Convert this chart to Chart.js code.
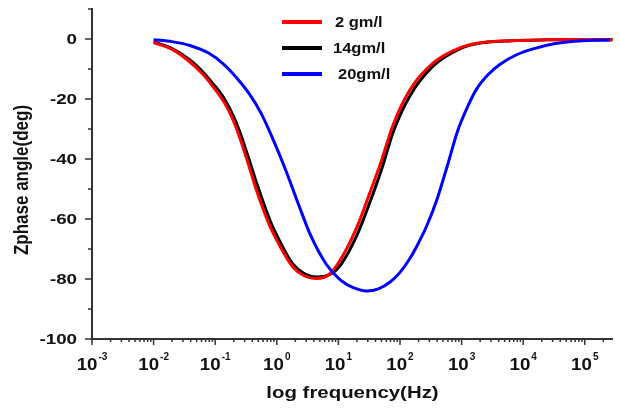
<!DOCTYPE html>
<html>
<head>
<meta charset="utf-8">
<script src="https://cdn.jsdelivr.net/npm/chart.js@4"></script>
<style>
  body { margin: 0; background: #fff; }
  #chart { display: block; }
</style>
</head>
<body>
<canvas id="chart" width="620" height="410"></canvas>
<script>
// readings from the picture: log10(frequency) and phase angle (deg)
const redLogF = [-2.0, -1.7, -1.41, -1.2, -1.04, -0.85, -0.71, -0.6, -0.48, -0.32, -0.11, 0.05, 0.26, 0.45, 0.65, 0.85, 1.03, 1.3, 1.51, 1.7, 1.89, 2.16, 2.54, 2.97, 3.3, 3.8, 4.4, 5.0, 5.45];
const redPhase = [-1.2, -3.5, -7.7, -11.8, -15.8, -21.3, -27, -33, -40.5, -51, -62.5, -69, -76, -79, -79.8, -78.5, -73.7, -62.7, -51.3, -40.5, -28.5, -17, -8, -3, -1.3, -0.6, -0.3, -0.2, -0.3];

const blackLogF = [-2.0, -1.7, -1.41, -1.2, -1.04, -0.85, -0.71, -0.6, -0.48, -0.32, -0.11, 0.05, 0.26, 0.45, 0.65, 0.85, 1.03, 1.3, 1.51, 1.7, 1.89, 2.16, 2.54, 2.97, 3.3, 3.8, 4.4, 5.0, 5.45];
const blackPhase = [-1.0, -3.2, -7.0, -11, -14.8, -20, -25.5, -31, -38.3, -48.5, -60.5, -67.5, -75, -78.3, -79.3, -78.6, -75.5, -65.5, -54.5, -43.5, -31, -19, -9, -3.3, -1.4, -0.6, -0.3, -0.2, -0.3];

const blueLogF = [-2.0, -1.7, -1.41, -1.1, -0.87, -0.65, -0.44, -0.25, -0.05, 0.15, 0.35, 0.55, 0.8, 1.03, 1.25, 1.46, 1.65, 1.84, 2.0, 2.16, 2.3, 2.44, 2.6, 2.78, 2.93, 3.1, 3.25, 3.45, 3.62, 3.9, 4.16, 4.5, 4.9, 5.41];
const bluePhase = [-0.3, -0.9, -2.2, -4.8, -8.3, -13, -18.5, -25, -34, -44, -55, -65.5, -75, -80.3, -83, -84, -83.3, -81, -77.8, -73.2, -68, -62, -53.5, -41.5, -31, -22.5, -16.5, -11.5, -8.5, -5.2, -3.3, -1.6, -0.7, -0.4];

const seriesNames = ["2 gm/l", "14gm/l", "20gm/l"];
const seriesColors = ["#ff0000", "#000000", "#0000ff"];

const xExponents = [-3, -2, -1, 0, 1, 2, 3, 4, 5];
const yTicks = [0, -20, -40, -60, -80, -100];
const yMinorTicks = [10, -10, -30, -50, -70, -90];

const xTitle = "log frequency(Hz)";
const yTitle = "Zphase angle(deg)";

const toPoints = (logf, phase) => logf.map((v, i) => ({ x: Math.pow(10, v), y: phase[i] }));

// draw text stretched horizontally like the original bitmap
function wideText(ctx, text, x, y, align, sx) {
  ctx.save();
  ctx.translate(x, y);
  ctx.scale(sx, 1);
  ctx.textAlign = align;
  ctx.fillText(text, 0, 0);
  ctx.restore();
}

const axesPlugin = {
  id: "axesPlugin",
  afterDatasetsDraw(chart) {
    const ctx = chart.ctx;
    const xs = chart.scales.x;
    const ys = chart.scales.y;
    const area = chart.chartArea;
    ctx.save();

    // axis lines
    ctx.strokeStyle = "#333";
    ctx.lineWidth = 2;
    ctx.beginPath();
    ctx.moveTo(area.left, area.top);
    ctx.lineTo(area.left, area.bottom);
    ctx.lineTo(area.right, area.bottom);
    ctx.stroke();

    // y ticks
    ctx.lineWidth = 1.5;
    ctx.beginPath();
    yTicks.forEach((v) => {
      const py = ys.getPixelForValue(v);
      ctx.moveTo(area.left - 7, py);
      ctx.lineTo(area.left, py);
    });
    yMinorTicks.forEach((v) => {
      const py = ys.getPixelForValue(v);
      ctx.moveTo(area.left - 4, py);
      ctx.lineTo(area.left, py);
    });
    // x ticks, major + minor
    xExponents.forEach((e) => {
      const px = xs.getPixelForValue(Math.pow(10, e));
      ctx.moveTo(px, area.bottom);
      ctx.lineTo(px, area.bottom + 6);
      for (let m = 2; m <= 9; m++) {
        const mx = xs.getPixelForValue(m * Math.pow(10, e));
        if (mx > area.right + 1) break;
        ctx.moveTo(mx, area.bottom);
        ctx.lineTo(mx, area.bottom + 3);
      }
    });
    ctx.stroke();

    // y tick labels
    ctx.fillStyle = "#111";
    ctx.textBaseline = "middle";
    ctx.font = "bold 15px 'Liberation Sans', Arial, sans-serif";
    yTicks.forEach((v) => {
      wideText(ctx, String(v), area.left - 15, ys.getPixelForValue(v) + 1, "right", 1.25);
    });

    // x tick labels 10^n
    ctx.textBaseline = "alphabetic";
    xExponents.forEach((e) => {
      const px = xs.getPixelForValue(Math.pow(10, e));
      ctx.font = "bold 17px 'Liberation Sans', Arial, sans-serif";
      const baseW = ctx.measureText("10").width * 1.1;
      ctx.font = "bold 10px 'Liberation Sans', Arial, sans-serif";
      const sup = String(e);
      const supW = ctx.measureText(sup).width;
      const left = px - (baseW + supW + 1) / 2;
      ctx.font = "bold 17px 'Liberation Sans', Arial, sans-serif";
      wideText(ctx, "10", left, 370, "left", 1.1);
      ctx.font = "bold 10px 'Liberation Sans', Arial, sans-serif";
      wideText(ctx, sup, left + baseW + 1, 360, "left", 1.0);
    });

    // axis titles
    ctx.font = "bold 17px 'Liberation Sans', Arial, sans-serif";
    wideText(ctx, xTitle, (area.left + area.right) / 2, 398, "center", 1.2);
    ctx.save();
    ctx.translate(28, 180);
    ctx.rotate(-Math.PI / 2);
    ctx.scale(1, 1.15);
    ctx.textAlign = "center";
    ctx.fillText(yTitle, 0, 0);
    ctx.restore();

    // legend
    const legendY = [22, 48, 74];
    const textX = [335, 333, 338];
    ctx.textBaseline = "middle";
    ctx.font = "bold 15px 'Liberation Sans', Arial, sans-serif";
    seriesNames.forEach((name, i) => {
      ctx.strokeStyle = seriesColors[i];
      ctx.lineWidth = 4;
      ctx.beginPath();
      ctx.moveTo(282, legendY[i]);
      ctx.lineTo(322, legendY[i]);
      ctx.stroke();
      ctx.fillStyle = "#111";
      wideText(ctx, name, textX[i], legendY[i] + 1, "left", 1.1);
    });

    ctx.restore();
  },
};

new Chart(document.getElementById("chart"), {
  type: "line",
  data: {
    datasets: [
      { label: seriesNames[0], data: toPoints(redLogF, redPhase), borderColor: seriesColors[0], order: 1 },
      { label: seriesNames[1], data: toPoints(blackLogF, blackPhase), borderColor: seriesColors[1], order: 2 },
      { label: seriesNames[2], data: toPoints(blueLogF, bluePhase), borderColor: seriesColors[2], order: 0 },
    ],
  },
  options: {
    responsive: false,
    animation: false,
    layout: { padding: { left: 92, right: 7, top: 8, bottom: 71 } },
    elements: {
      point: { radius: 0 },
      line: { borderWidth: 3, cubicInterpolationMode: "monotone", fill: false },
    },
    plugins: { legend: { display: false }, tooltip: { enabled: false } },
    scales: {
      x: { type: "logarithmic", min: 1e-3, max: 2.87e5, display: false },
      y: { type: "linear", min: -100, max: 10.3, display: false },
    },
  },
  plugins: [axesPlugin],
});
</script>
</body>
</html>
